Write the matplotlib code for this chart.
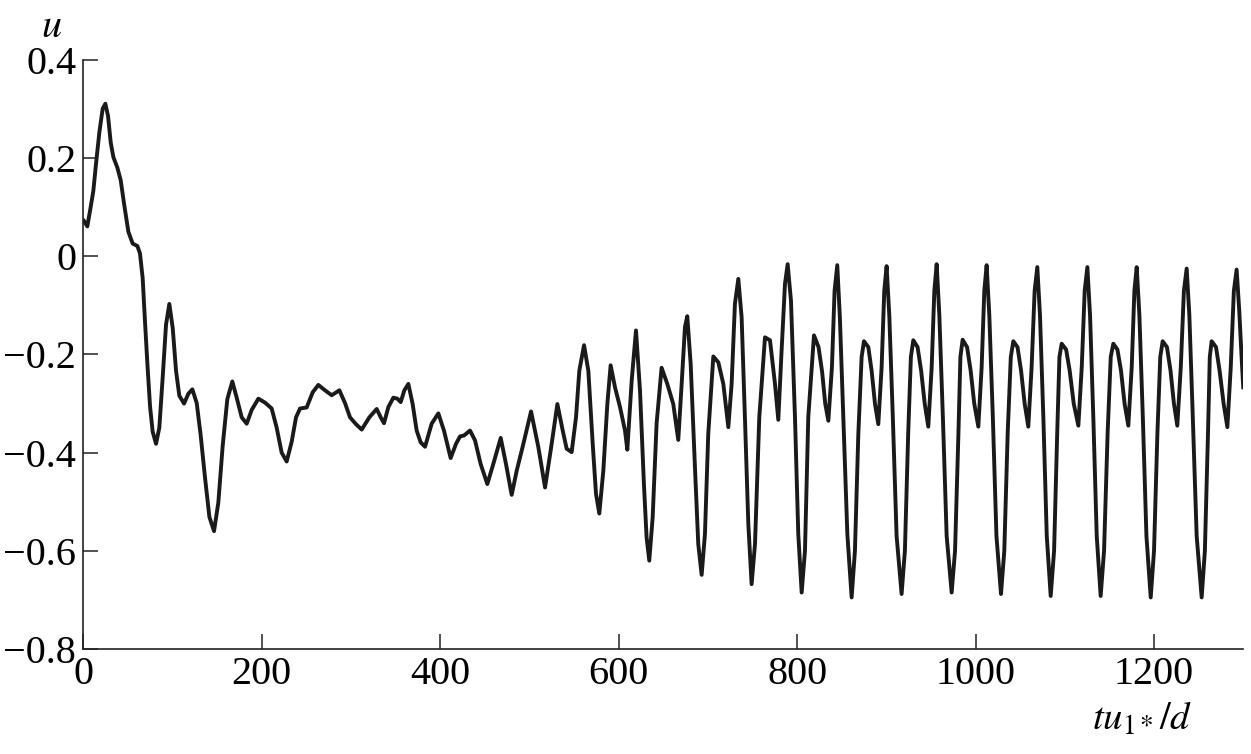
import matplotlib
matplotlib.use("Agg")
import matplotlib.pyplot as plt

# time tu_1*/d and velocity u
t = [0.8, 4.5, 8.3, 11.2, 14.2, 18.0, 21.7, 24.7, 27.7, 30.7, 33.7, 38.1, 41.9, 45.6, 50.5,
     55.3, 60.6, 63.5, 66.5, 69.1, 71.8, 74.8, 77.7, 81.5, 85.2, 88.9, 92.7, 96.4, 100.2,
     103.9, 107.6, 112.9, 117.7, 122.2, 127.1, 131.5, 136.4, 141.3, 146.5, 151.3, 156.2,
     161.4, 167.0, 171.9, 177.5, 183.1, 188.7, 196.2, 203.6, 211.1, 216.7, 222.3, 227.9,
     233.5, 238.4, 242.9, 250.3, 257.1, 263.4, 270.9, 278.4, 287.0, 293.3, 298.9, 305.6,
     312.0, 320.6, 328.8, 333.3, 337.0, 341.9, 347.5, 352.0, 355.7, 359.8, 364.3, 369.1,
     373.6, 378.1, 383.0, 390.4, 397.9, 404.2, 411.7, 417.7, 422.2, 426.7, 433.4, 439.0,
     445.3, 452.8, 459.5, 467.8, 473.7, 480.1, 485.7, 493.2, 501.8, 510.0, 517.5, 524.9,
     531.3, 537.3, 541.7, 547.3, 552.2, 555.9, 561.2, 566.0, 570.9, 574.6, 578.3, 582.8,
     587.3, 591.0, 595.9, 601.5, 607.1, 609.7, 614.6, 619.4, 623.9, 628.3, 631.3, 634.3,
     638.1, 642.5, 648.1, 654.5, 661.2, 666.8, 670.6, 674.3, 676.9, 680.7, 685.5, 689.2,
     693.0, 696.7, 700.4, 706.1, 711.7, 717.3, 722.9, 726.6, 730.3, 734.1, 737.8, 741.5,
     745.3, 749.0, 752.8, 757.6, 764.0, 769.6, 775.2, 778.9, 782.6, 786.4, 789.4, 793.1,
     797.6, 801.3, 805.1, 808.8, 812.5, 818.9, 824.0, 828.0, 831.5, 835.0, 839.0, 842.0,
     845.0, 847.9, 851.8, 856.3, 861.1, 864.8, 868.6, 872.3, 874.9, 879.8, 883.5, 887.3,
     891.0, 894.7, 897.7, 900.3, 903.3, 907.3, 911.5, 917.1, 920.8, 924.5, 927.5, 930.2,
     935.0, 939.0, 943.0, 947.0, 950.8, 953.8, 956.4, 959.4, 963.4, 967.6, 973.2, 977.0,
     980.8, 983.0, 985.5, 990.5, 994.5, 998.5, 1003.1, 1006.8, 1009.8, 1012.4, 1015.4,
     1019.4, 1023.4, 1028.5, 1032.2, 1036.0, 1039.5, 1042.3, 1047.0, 1051.0, 1055.0,
     1059.1, 1062.8, 1066.2, 1069.2, 1072.2, 1076.0, 1079.8, 1084.2, 1088.0, 1091.5,
     1094.0, 1096.5, 1101.5, 1105.5, 1110.0, 1115.2, 1119.0, 1122.3, 1125.3, 1128.3,
     1132.0, 1135.8, 1140.2, 1144.0, 1148.0, 1151.5, 1154.4, 1159.0, 1163.0, 1167.0,
     1171.2, 1175.0, 1178.0, 1180.6, 1183.6, 1187.5, 1191.5, 1196.3, 1200.0, 1203.8,
     1207.0, 1209.7, 1214.5, 1218.5, 1222.3, 1226.1, 1230.0, 1233.5, 1236.6, 1239.6,
     1243.5, 1247.8, 1253.4, 1257.0, 1260.5, 1262.5, 1264.6, 1269.5, 1273.5, 1278.0,
     1282.2, 1286.0, 1289.5, 1292.6, 1295.5, 1298.0, 1300.0]
u = [0.072, 0.061, 0.101, 0.133, 0.188, 0.253, 0.301, 0.311, 0.286, 0.232, 0.202, 0.181, 0.155,
     0.108, 0.050, 0.026, 0.021, 0.006, -0.044, -0.132, -0.219, -0.306, -0.357, -0.382,
     -0.349, -0.248, -0.139, -0.097, -0.146, -0.233, -0.284, -0.300, -0.280, -0.271,
     -0.299, -0.364, -0.451, -0.531, -0.560, -0.502, -0.386, -0.291, -0.255, -0.288,
     -0.328, -0.341, -0.313, -0.290, -0.298, -0.310, -0.349, -0.400, -0.418, -0.378,
     -0.328, -0.310, -0.308, -0.277, -0.262, -0.273, -0.283, -0.273, -0.299, -0.328,
     -0.342, -0.353, -0.328, -0.311, -0.328, -0.340, -0.307, -0.288, -0.290, -0.297,
     -0.273, -0.260, -0.301, -0.355, -0.379, -0.388, -0.341, -0.320, -0.355, -0.411,
     -0.382, -0.367, -0.365, -0.355, -0.375, -0.423, -0.464, -0.423, -0.370, -0.423,
     -0.486, -0.437, -0.382, -0.316, -0.389, -0.471, -0.382, -0.301, -0.355, -0.392,
     -0.399, -0.328, -0.233, -0.181, -0.233, -0.382, -0.484, -0.524, -0.437, -0.301,
     -0.222, -0.267, -0.307, -0.355, -0.394, -0.253, -0.151, -0.273, -0.464, -0.573,
     -0.620, -0.532, -0.341, -0.227, -0.260, -0.301, -0.374, -0.260, -0.144, -0.122,
     -0.219, -0.430, -0.586, -0.649, -0.566, -0.362, -0.204, -0.216, -0.260, -0.348,
     -0.260, -0.097, -0.046, -0.124, -0.328, -0.545, -0.668, -0.586, -0.328, -0.165,
     -0.171, -0.260, -0.333, -0.192, -0.056, -0.016, -0.090, -0.328, -0.566, -0.685,
     -0.600, -0.328, -0.161, -0.185, -0.235, -0.300, -0.335, -0.226, -0.070, -0.018,
     -0.124, -0.328, -0.566, -0.695, -0.600, -0.362, -0.205, -0.173, -0.185, -0.233,
     -0.301, -0.342, -0.226, -0.069, -0.020, -0.120, -0.330, -0.570, -0.688, -0.600,
     -0.360, -0.205, -0.171, -0.185, -0.233, -0.300, -0.347, -0.226, -0.070, -0.016,
     -0.120, -0.330, -0.570, -0.685, -0.600, -0.360, -0.205, -0.170, -0.185, -0.233,
     -0.300, -0.347, -0.226, -0.070, -0.018, -0.120, -0.330, -0.570, -0.688, -0.600,
     -0.360, -0.205, -0.173, -0.185, -0.233, -0.300, -0.347, -0.226, -0.070, -0.022,
     -0.120, -0.330, -0.570, -0.692, -0.600, -0.360, -0.205, -0.178, -0.190, -0.233,
     -0.300, -0.345, -0.226, -0.070, -0.022, -0.120, -0.330, -0.570, -0.692, -0.600,
     -0.360, -0.205, -0.178, -0.190, -0.233, -0.300, -0.345, -0.226, -0.070, -0.022,
     -0.120, -0.330, -0.570, -0.695, -0.600, -0.360, -0.205, -0.173, -0.185, -0.233,
     -0.300, -0.345, -0.226, -0.070, -0.025, -0.120, -0.330, -0.570, -0.695, -0.600,
     -0.360, -0.205, -0.173, -0.185, -0.233, -0.300, -0.348, -0.226, -0.070, -0.027,
     -0.110, -0.200, -0.267]

xticks = [0, 200, 400, 600, 800, 1000, 1200]
yticks = [-0.8, -0.6, -0.4, -0.2, 0, 0.2, 0.4]
ytick_labels = ["\u22120.8", "\u22120.6", "\u22120.4", "\u22120.2", "0", "0.2", "0.4"]

plt.rcParams["font.family"] = "Liberation Serif"
plt.rcParams["mathtext.fontset"] = "stix"

fig = plt.figure(figsize=(12.51, 7.54), dpi=100)
ax = fig.add_axes([0.0666, 0.1393, 0.9272, 0.7811])

ax.plot(t, u, color="#1a1a1a", lw=2.8, solid_joinstyle="round")

ax.set_xlim(0, 1300)
ax.set_ylim(-0.8, 0.4)
ax.set_xticks(xticks)
ax.set_yticks(yticks)
ax.set_yticklabels(ytick_labels)
ax.tick_params(direction="in", length=11, width=1.1, labelsize=29, pad=5, color="#222222")

for side in ["top", "right"]:
    ax.spines[side].set_visible(False)
for side in ["left", "bottom"]:
    ax.spines[side].set_linewidth(1.2)
    ax.spines[side].set_color("#222222")

fig.text(0.041, 0.964, "$u$", fontsize=29, ha="center", va="center")
fig.text(0.913, 0.045, "$tu_{1*}/d$", fontsize=28, ha="center", va="center")

fig.savefig("out.png", dpi=100)
